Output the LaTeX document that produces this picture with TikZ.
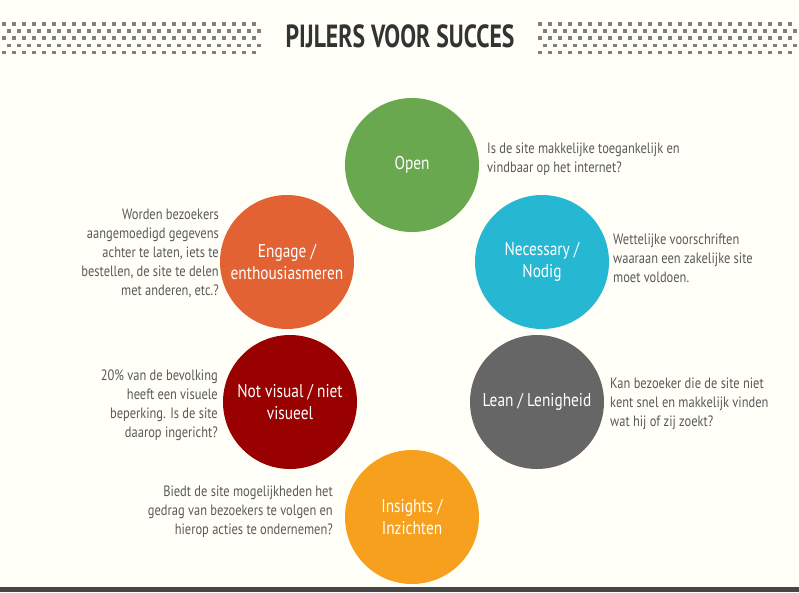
\documentclass[tikz,border=0pt]{standalone}
\usepackage{fontspec}
\setmainfont{PT Sans}[FakeStretch=0.83]
\newfontfamily\titlefont{PT Sans}[FakeStretch=0.74]
\begin{document}
\begin{tikzpicture}[x=1pt,y=-1pt,
  pill/.style={circle,minimum size=134pt,inner sep=0pt,text=white,align=center,font=\fontsize{18.5}{22}\selectfont},
  desc/.style={text=black!65,font=\fontsize{15}{19}\selectfont,inner sep=0pt},
  dot/.style={fill=black!50}]
\fill[fill={rgb,255:red,255;green,255;blue,247}] (0,0) rectangle (799,592);
\useasboundingbox (0,0) rectangle (799,592);
\fill[black!72] (0,587) rectangle (799,592);
\foreach \r in {0,...,4}{
  \foreach \c in {0,...,25}{
    \pgfmathsetmacro\xo{2+\c*10+mod(\r,2)*5}
    \fill[black!50] (\xo,22+\r*7.2) rectangle ++(3.5,3.5);
    \fill[black!50] (\xo+536,22+\r*7.2) rectangle ++(3.5,3.5);
  }}
\node[text=black!80,font=\titlefont\bfseries\fontsize{32}{34}\selectfont] (title) at (400,36) {PIJLERS VOOR SUCCES};
\node[pill,fill={rgb,255:red,106;green,168;blue,79}] (open) at (412,165) {Open};
\node[pill,fill={rgb,255:red,38;green,184;blue,210}] (nec) at (542,262) {Necessary /\\Nodig};
\node[pill,fill={rgb,255:red,102;green,102;blue,102}] (lean) at (537,402) {Lean / Lenigheid};
\node[pill,fill={rgb,255:red,246;green,160;blue,30}] (ins) at (412,517) {Insights /\\Inzichten};
\node[pill,fill={rgb,255:red,153;green,0;blue,0}] (notv) at (290,402) {Not visual / niet\\visueel};
\node[pill,fill={rgb,255:red,227;green,98;blue,52}] (eng) at (287,262) {Engage /\\enthousiasmeren};
\node[desc,anchor=west,align=left] (d1) at (487,159) {Is de site makkelijke toegankelijk en\\vindbaar op het internet?};
\node[desc,anchor=west,align=left] (d2) at (613,258) {Wettelijke voorschriften\\waaraan een zakelijke site\\moet voldoen.};
\node[desc,anchor=west,align=left] (d3) at (610,404) {Kan bezoeker die de site niet\\kent snel en makkelijk vinden\\wat hij of zij zoekt?};
\node[desc,anchor=east,align=right] (d4) at (333,512) {Biedt de site mogelijkheden het\\gedrag van bezoekers te volgen en\\hierop acties te ondernemen?};
\node[desc,anchor=east,align=right] (d5) at (218,405) {20\% van de bevolking\\heeft een visuele\\beperking. Is de site\\daarop ingericht?};
\node[desc,anchor=east,align=right] (d6) at (219,253) {Worden bezoekers\\aangemoedigd gegevens\\achter te laten, iets te\\bestellen, de site te delen\\met anderen, etc.?};
\end{tikzpicture}
\end{document}
